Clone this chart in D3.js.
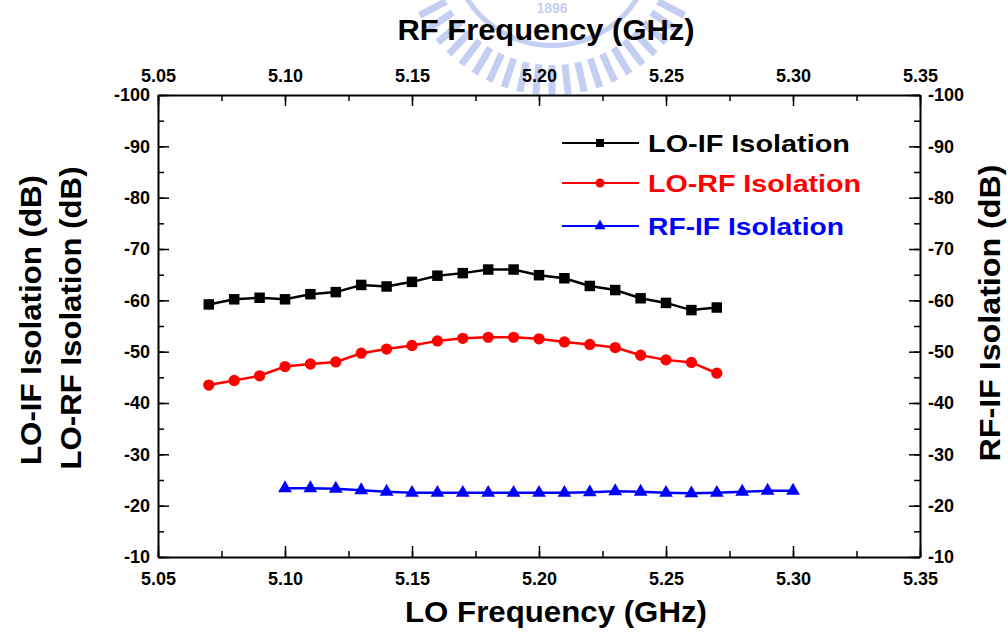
<!DOCTYPE html>
<html><head><meta charset="utf-8">
<script src="https://cdn.jsdelivr.net/npm/d3@7"></script>
<style>body{margin:0;background:#fff;} svg{display:block;font-family:"Liberation Sans",Arial,sans-serif;font-weight:bold;}</style>
</head><body>
<script>
const loFreq = [5.07,5.08,5.09,5.10,5.11,5.12,5.13,5.14,5.15,5.16,5.17,5.18,5.19,5.20,5.21,5.22,5.23,5.24,5.25,5.26,5.27];
const loIf = [-59.2,-60.2,-60.5,-60.2,-61.2,-61.6,-63.0,-62.7,-63.6,-64.8,-65.3,-66.0,-66.0,-64.9,-64.3,-62.8,-62.0,-60.4,-59.5,-58.1,-58.6];
const loRf = [-43.5,-44.4,-45.3,-47.1,-47.6,-48.0,-49.7,-50.5,-51.2,-52.1,-52.6,-52.8,-52.8,-52.5,-51.9,-51.4,-50.8,-49.3,-48.4,-47.9,-45.8];
const rfFreq = [5.10,5.11,5.12,5.13,5.14,5.15,5.16,5.17,5.18,5.19,5.20,5.21,5.22,5.23,5.24,5.25,5.26,5.27,5.28,5.29,5.30];
const rfIf = [-23.4,-23.4,-23.3,-23.0,-22.7,-22.5,-22.5,-22.5,-22.5,-22.5,-22.5,-22.5,-22.6,-22.8,-22.7,-22.5,-22.4,-22.5,-22.7,-22.9,-22.9];
const xTicks = [5.05,5.10,5.15,5.20,5.25,5.30,5.35];
const yTicks = [-100,-90,-80,-70,-60,-50,-40,-30,-20,-10];
const seriesNames = ["LO-IF Isolation","LO-RF Isolation","RF-IF Isolation"];
const seriesColors = ["#000000","#ff0000","#0000ff"];

const W=1008,H=634;
const svg=d3.select("body").append("svg").attr("width",W).attr("height",H);
const L=158,R=920,T=95,B=557;
const x=d3.scaleLinear().domain([5.05,5.35]).range([L,R]);
const xTop=d3.scaleLinear().domain([5.05,5.35]).range([L,R]);
const y=d3.scaleLinear().domain([-100,-10]).range([T,B]);

// faint watermark logo (decoration)
const wm=svg.append("g").attr("opacity",0.3).attr("transform","translate(552,-55)");
const ang=d3.range(-62,63,6.2);
wm.selectAll(null).data(ang).enter().append("line")
  .attr("x1",a=>Math.sin(a*Math.PI/180)*120).attr("y1",a=>Math.cos(a*Math.PI/180)*120)
  .attr("x2",a=>Math.sin(a*Math.PI/180)*150).attr("y2",a=>Math.cos(a*Math.PI/180)*150)
  .attr("stroke","#3f5fd0").attr("stroke-width",7);
wm.append("path").attr("d",d3.arc()({innerRadius:98,outerRadius:103,startAngle:Math.PI*0.62,endAngle:Math.PI*1.38}))
  .attr("fill","#3f5fd0");
wm.append("text").attr("x",0).attr("y",68).attr("text-anchor","middle").attr("font-size",14).attr("fill","#3f5fd0").text("1896");

const tickFmt=d3.format(".2f");
const yFmt=d=>String(d);
function styleAxis(g){g.selectAll("path.domain").attr("stroke","#000").attr("stroke-width",2);
  g.selectAll(".tick line").attr("stroke","#000").attr("stroke-width",1.5);
  g.selectAll("text").attr("font-size",18).attr("font-weight","bold").attr("font-family","Liberation Sans, Arial, sans-serif").attr("fill","#000");}

const minorX=d3.range(0,13).map(i=>5.05+i*0.025);
const minorY=d3.range(0,19).map(i=>-100+i*5);
function minor(g){g.select(".domain").remove();g.selectAll(".tick line").attr("stroke","#000").attr("stroke-width",1.5);}

// bottom
svg.append("g").attr("transform",`translate(0,${B})`).call(d3.axisBottom(x).tickValues(minorX).tickSize(-6).tickFormat("")).call(minor);
const gb=svg.append("g").attr("transform",`translate(0,${B})`).call(d3.axisBottom(x).tickValues(xTicks).tickSize(-11).tickSizeOuter(0).tickFormat(tickFmt));
styleAxis(gb); gb.selectAll("text").attr("y",28).attr("dy","0");
// top
svg.append("g").attr("transform",`translate(0,${T})`).call(d3.axisTop(xTop).tickValues(minorX).tickSize(-6).tickFormat("")).call(minor);
const gt=svg.append("g").attr("transform",`translate(0,${T})`).call(d3.axisTop(xTop).tickValues(xTicks).tickSize(-11).tickSizeOuter(0).tickFormat(tickFmt));
styleAxis(gt); gt.selectAll("text").attr("y",-13).attr("dy","0");
// left
svg.append("g").attr("transform",`translate(${L},0)`).call(d3.axisLeft(y).tickValues(minorY).tickSize(-6).tickFormat("")).call(minor);
const gl=svg.append("g").attr("transform",`translate(${L},0)`).call(d3.axisLeft(y).tickValues(yTicks).tickSize(-11).tickSizeOuter(0).tickFormat(yFmt));
styleAxis(gl); gl.selectAll("text").attr("x",-8);
// right
svg.append("g").attr("transform",`translate(${R},0)`).call(d3.axisRight(y).tickValues(minorY).tickSize(-6).tickFormat("")).call(minor);
const gr=svg.append("g").attr("transform",`translate(${R},0)`).call(d3.axisRight(y).tickValues(yTicks).tickSize(-11).tickSizeOuter(0).tickFormat(yFmt));
styleAxis(gr); gr.selectAll("text").attr("x",8);

// titles
function title(tx,ty,rot,txt,len){
  svg.append("text").attr("transform",`translate(${tx},${ty}) rotate(${rot})`).attr("text-anchor","middle")
    .attr("font-size",30).attr("textLength",len).attr("lengthAdjust","spacingAndGlyphs").text(txt);
}
title(556,622,0,"LO Frequency (GHz)",302);
title(546,40,0,"RF Frequency (GHz)",297);
title(41,320,-90,"LO-IF Isolation (dB)",290);
title(81,318,-90,"LO-RF Isolation (dB)",303);
title(1000,313,-90,"RF-IF Isolation (dB)",297);

const line=d3.line().x(d=>x(d[0])).y(d=>y(d[1]));
const sets=[
  {xs:loFreq,ys:loIf,sym:d3.symbolSquare,size:110,leg:64},
  {xs:loFreq,ys:loRf,sym:d3.symbolCircle,size:100,leg:64},
  {xs:rfFreq,ys:rfIf,sym:d3.symbolTriangle,size:82,leg:52}
];
sets.forEach((s,i)=>{
  const pts=s.xs.map((v,j)=>[v,s.ys[j]]);
  svg.append("path").datum(pts).attr("d",line).attr("fill","none").attr("stroke",seriesColors[i]).attr("stroke-width",2.5);
  svg.selectAll(null).data(pts).enter().append("path")
    .attr("d",d3.symbol().type(s.sym).size(s.size))
    .attr("transform",d=>`translate(${x(d[0])},${y(d[1])})`).attr("fill",seriesColors[i]);
});

// legend
const legY=[143,183,226];
const legLen=[202,213,196];
sets.forEach((s,i)=>{
  const g=svg.append("g");
  g.append("line").attr("x1",562).attr("x2",639).attr("y1",legY[i]).attr("y2",legY[i]).attr("stroke",seriesColors[i]).attr("stroke-width",2);
  g.append("path").attr("d",d3.symbol().type(s.sym).size(s.leg)).attr("transform",`translate(600,${legY[i]})`).attr("fill",seriesColors[i]);
  g.append("text").attr("x",648).attr("y",legY[i]+9).attr("font-size",24).attr("fill",seriesColors[i])
    .attr("textLength",legLen[i]).attr("lengthAdjust","spacingAndGlyphs").text(seriesNames[i]);
});
</script>
</body></html>
